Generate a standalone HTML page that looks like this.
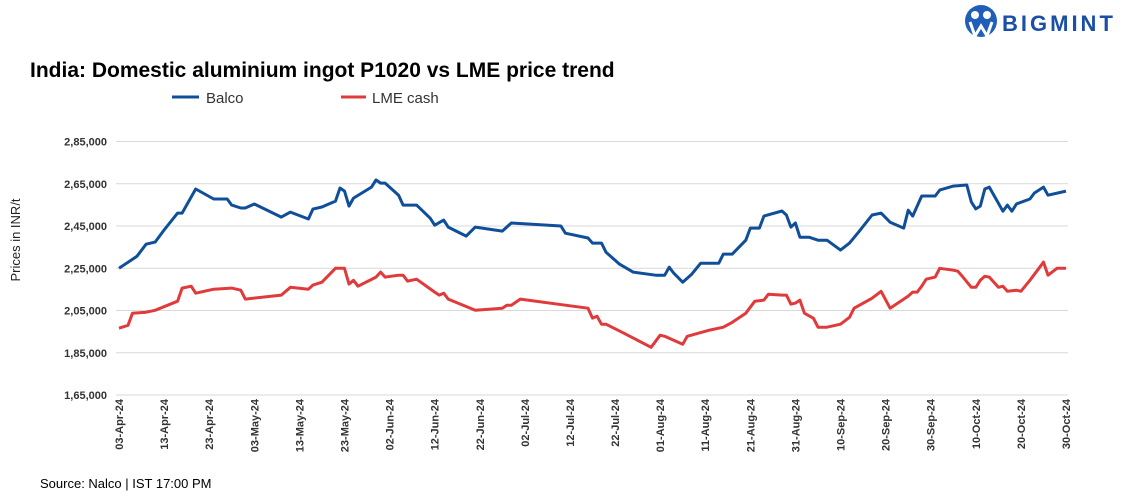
<!DOCTYPE html>
<html><head><meta charset="utf-8"><style>
body{margin:0;background:#fff;font-family:"Liberation Sans",sans-serif;}
svg{display:block}
</style></head><body>
<svg id="chart" width="1142" height="497">
<g>
<circle cx="981" cy="21" r="16" fill="#1f5fb8"/>
<circle cx="975" cy="15" r="4" fill="#fff"/><circle cx="987" cy="15" r="4" fill="#fff"/>
<path d="M970 22 L975 36 L981 26 L987 36 L992 22" stroke="#fff" stroke-width="3" fill="none"/>
<text x="1002" y="31" font-size="22" font-weight="bold" fill="#1a4fa8" letter-spacing="3">BIGMINT</text>
</g>
<text x="30" y="77" font-size="21" font-weight="bold" fill="#000">India: Domestic aluminium ingot P1020 vs LME price trend</text>
<g>
<line x1="172" y1="97" x2="199" y2="97" stroke="#0f4f99" stroke-width="3"/>
<text x="206" y="103" font-size="15" fill="#333">Balco</text>
<line x1="341" y1="97" x2="366" y2="97" stroke="#e03a3a" stroke-width="3"/>
<text x="372" y="103" font-size="15" fill="#333">LME cash</text>
</g>
<text transform="translate(20,240) rotate(-90)" text-anchor="middle" font-size="13" fill="#222">Prices in INR/t</text>
<g id="grid"></g><g id="yt"></g><g id="xt"></g><g id="lines"></g>
<text x="40" y="488" font-size="13" fill="#000">Source: Nalco | IST 17:00 PM</text>
</svg>
<script>
const yTicks=[165000,185000,205000,225000,245000,265000,285000];
const xLabels=["03-Apr-24","13-Apr-24","23-Apr-24","03-May-24","13-May-24","23-May-24","02-Jun-24","12-Jun-24","22-Jun-24","02-Jul-24","12-Jul-24","22-Jul-24","01-Aug-24","11-Aug-24","21-Aug-24","31-Aug-24","10-Sep-24","20-Sep-24","30-Sep-24","10-Oct-24","20-Oct-24","30-Oct-24"];
const balcoDays=[0,4,6,8,10,13,14,17,21,24,25,27,28,30,36,38,42,43,45,48,49,50,51,52,56,57,58,59,62,63,66,69,70,72,73,77,79,85,87,98,99,104,105,107,108,111,114,119,121,122,123,125,127,129,133,134,136,139,140,142,143,147,148,149,150,151,153,155,157,160,162,164,167,169,171,174,175,176,178,181,182,185,188,189,190,191,192,193,196,197,198,199,202,203,205,206,210];
const balcoVals=[225000,230700,236400,237400,243100,251100,251100,262500,257800,257800,254900,253500,253500,255400,249200,251600,248300,253000,254000,256800,263000,261500,254400,258200,263400,266800,265300,265300,259600,254900,254900,248700,245400,247800,244500,240200,244500,242600,246400,245000,241600,239300,236900,236900,232600,226900,223200,221700,221700,225500,222700,218400,222200,227400,227400,231700,231700,238300,244000,244000,249700,252100,250200,244500,246400,239700,239700,238300,238300,233600,236900,242100,250200,251100,246800,244000,252500,249700,259200,259200,262000,263900,264400,256400,253100,254400,262500,263400,252000,254900,252000,255400,257800,260600,263400,259600,261500];
const lmeDays=[0,2,3,6,8,13,14,16,17,21,25,27,28,36,38,42,43,45,48,50,51,52,53,57,58,59,62,63,64,66,70,71,72,73,79,85,86,87,89,99,104,105,106,107,108,112,118,120,121,125,126,131,134,136,139,141,143,144,147,148,149,150,151,152,154,155,157,160,162,163,167,169,171,175,176,177,178,179,181,182,185,186,187,189,190,191,192,193,195,196,197,199,200,202,204,205,206,208,210];
const lmeVals=[196600,198000,203700,204200,205100,209400,215600,216500,213200,215100,215600,214600,210400,212300,216000,215100,217000,218400,225000,225000,217500,219300,216500,220800,223200,220800,221700,221700,218900,219800,213700,212300,213200,210400,205100,206100,207500,207500,210400,207500,206100,201400,202300,198500,198500,194200,187600,193300,192800,189000,192800,195700,197100,199400,203700,209400,209900,212700,212300,212300,208000,208500,209900,203700,201300,197100,197100,198500,201800,206100,210800,214100,206100,211800,213700,213700,216500,219800,220800,225000,224100,223600,221200,216000,216000,219300,221200,220800,216000,216500,214100,214600,214100,219300,225000,227900,221700,225000,225000];
const X0=119,X1=1066,DAYS=210,Y0=395,Y1=141.5,VMIN=165000,VMAX=285000;
const xs=d=>X0+(X1-X0)*d/DAYS;
const ys=v=>Y0-(Y0-Y1)*(v-VMIN)/(VMAX-VMIN);
const NS="http://www.w3.org/2000/svg";
function mk(t,a,p){const e=document.createElementNS(NS,t);for(const k in a)e.setAttribute(k,a[k]);p.appendChild(e);return e;}
const grid=document.getElementById('grid'),yt=document.getElementById('yt'),xt=document.getElementById('xt'),ln=document.getElementById('lines');
yTicks.forEach(v=>{
 const l=mk('line',{x1:116,x2:1068,y1:ys(v),y2:ys(v),stroke:'#d9d9d9','stroke-width':1},grid);
 
 
 const t=mk('text',{x:107,y:ys(v)+4,'text-anchor':'end','font-size':11,'font-weight':'bold',fill:'#333'},yt);
 t.textContent=v.toLocaleString('en-IN');
 
 
});
xLabels.forEach((s,i)=>{
 const x=xs(i*10);
 const t=mk('text',{transform:`translate(${x+4},399) rotate(-90)`,'text-anchor':'end','font-size':11,'font-weight':'bold',fill:'#333'},xt);
 t.textContent=s;
 
 
});
function draw(days,vals,color,name){
 const p=mk('polyline',{points:days.map((d,i)=>xs(d).toFixed(1)+','+ys(vals[i]).toFixed(1)).join(' '),fill:'none',stroke:color,'stroke-width':3,'stroke-linejoin':'round'},ln);
 
 
}
draw(balcoDays,balcoVals,'#0f4f99','balco-line');
draw(lmeDays,lmeVals,'#e03a3a','lme-cash-line');
</script>
</body></html>
